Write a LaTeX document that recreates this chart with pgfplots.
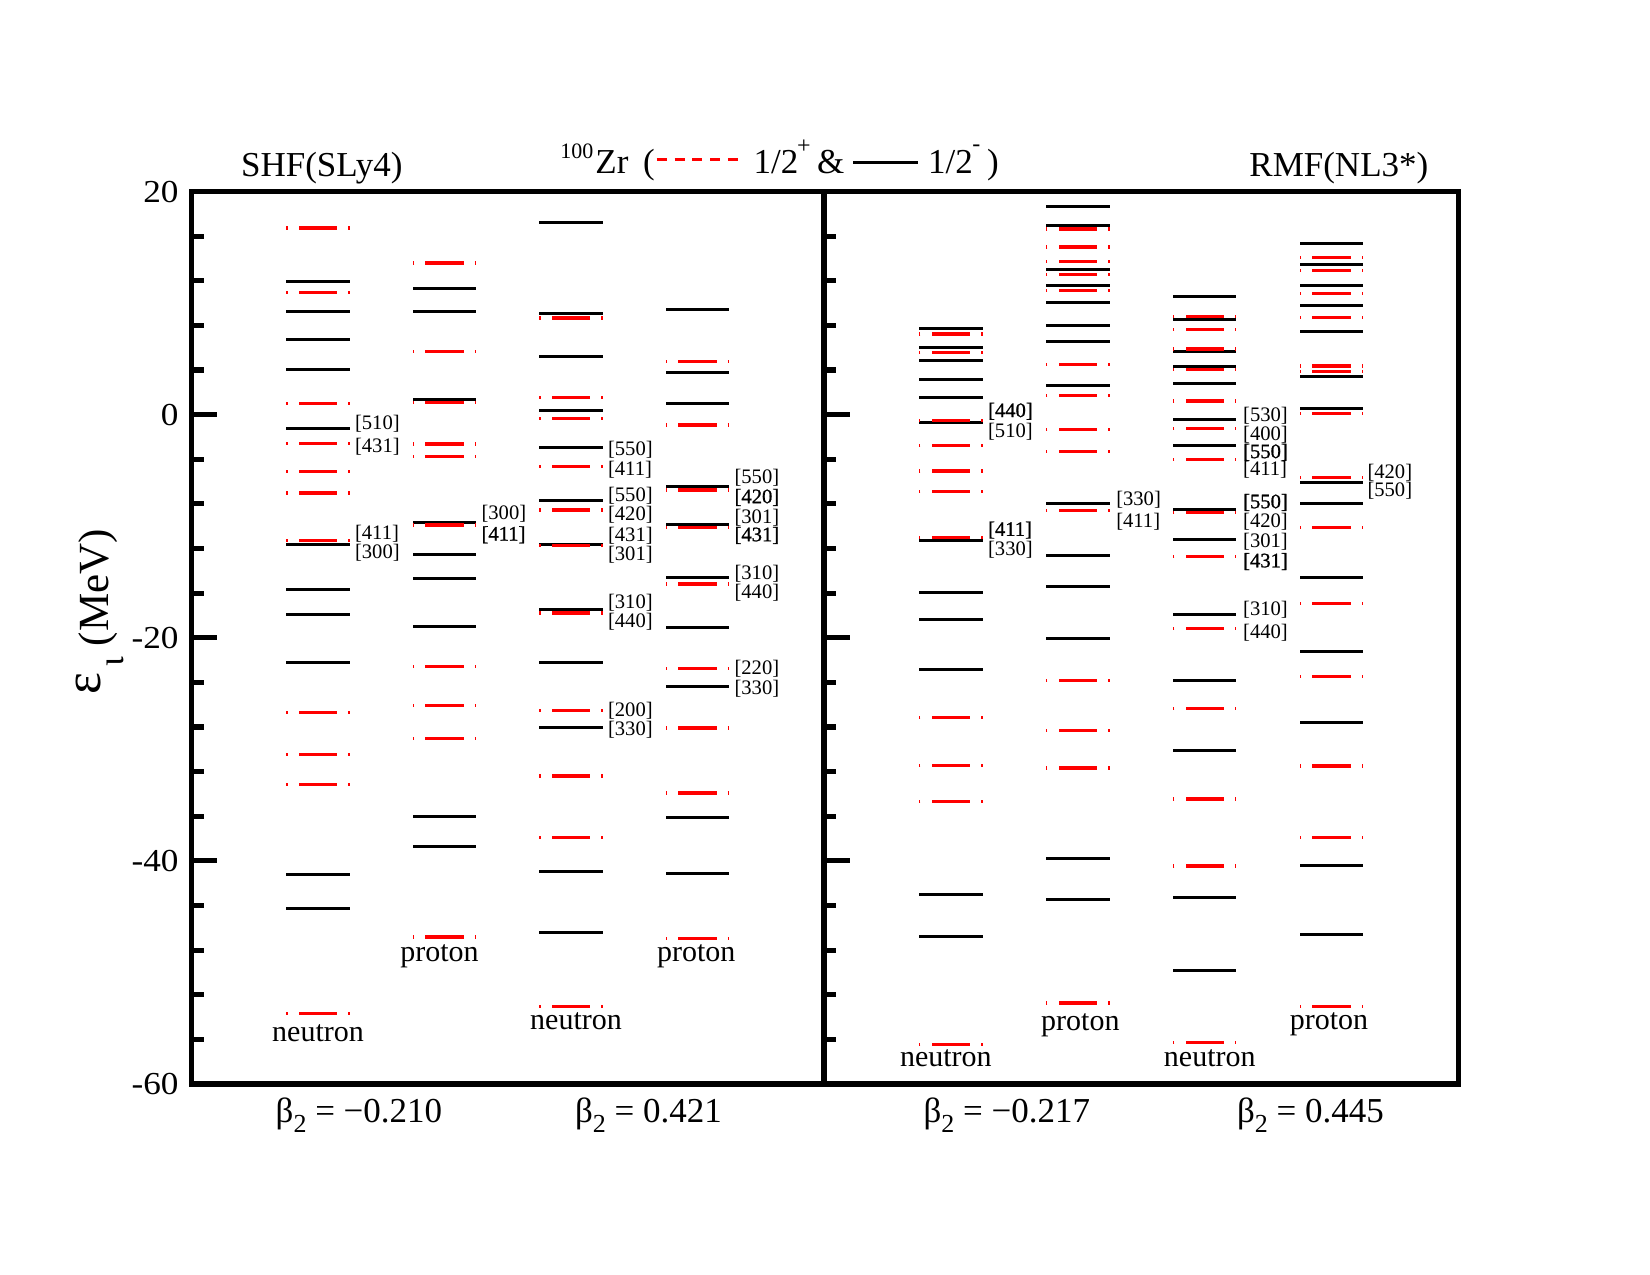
\documentclass[border=0pt]{standalone}
\usepackage{pgfplots}
\pgfplotsset{compat=1.18}
\usepackage{pgfplotstable}
\usepackage{fontspec}
\setmainfont{Liberation Serif}
\newfontfamily\tickfont[FakeStretch=1.1]{Liberation Serif}
\newfontfamily\heavyfont[FakeBold=1]{Liberation Serif}

% Single-particle Omega = 1/2 levels of 100Zr (x = column, y = energy in MeV)
% SHF(SLy4): columns 1,2 at beta2 = -0.210 (n, p); columns 3,4 at beta2 = 0.421 (n, p)
\pgfplotstableread{
x y
1 16.73
1 10.95
1 1.02
1 -2.57
1 -5.09
1 -7.03
1 -11.25
1 -26.70
1 -30.47
1 -33.14
1 -53.66
2 13.58
2 5.69
2 1.11
2 -2.63
2 -3.77
2 -9.90
2 -22.57
2 -26.10
2 -29.01
2 -46.81
3 8.65
3 1.56
3 -0.33
3 -4.64
3 -8.56
3 -11.76
3 -17.77
3 -26.55
3 -32.39
3 -37.92
3 -53.06
4 4.79
4 -0.93
4 -6.76
4 -10.14
4 -15.17
4 -22.78
4 -28.08
4 -33.91
4 -46.96
}\shfplus
\pgfplotstableread{
x y
1 11.97
1 9.22
1 6.70
1 4.04
1 -1.23
1 -11.61
1 -15.71
1 -17.89
1 -22.24
1 -41.21
1 -44.27
2 11.28
2 9.22
2 1.35
2 -9.66
2 -12.51
2 -14.72
2 -18.97
2 -35.98
2 -38.73
3 17.18
3 9.04
3 5.18
3 0.33
3 -2.90
3 -7.66
3 -11.61
3 -17.47
3 -22.24
3 -28.08
3 -40.95
3 -46.39
4 9.43
4 3.80
4 0.96
4 -6.43
4 -9.87
4 -14.63
4 -19.09
4 -24.40
4 -36.10
4 -41.10
}\shfminus
% RMF(NL3*): columns 1,2 at beta2 = -0.217 (n, p); columns 3,4 at beta2 = 0.445 (n, p)
\pgfplotstableread{
x y
1 7.24
1 5.60
1 -0.54
1 -2.75
1 -5.06
1 -6.88
1 -11.01
1 -27.12
1 -31.43
1 -34.66
1 -56.45
2 16.64
2 15.02
2 13.73
2 12.54
2 11.10
2 4.49
2 1.71
2 -1.35
2 -3.32
2 -8.59
2 -23.86
2 -28.32
2 -31.67
2 -52.73
3 8.80
3 7.63
3 5.89
3 4.07
3 1.23
3 -1.26
3 -4.04
3 -8.80
3 -12.72
3 -19.18
3 -26.37
3 -34.45
3 -40.47
3 -56.30
4 14.06
4 12.90
4 10.83
4 8.71
4 4.37
4 3.86
4 0.09
4 -5.63
4 -10.11
4 -16.91
4 -23.47
4 -31.49
4 -37.89
4 -53.06
}\rmfplus
\pgfplotstableread{
x y
1 7.75
1 6.04
1 4.85
1 3.11
1 1.50
1 -0.72
1 -11.31
1 -15.98
1 -18.40
1 -22.87
1 -42.98
1 -46.78
2 18.64
2 16.94
2 13.02
2 11.58
2 10.05
2 8.02
2 6.52
2 2.60
2 -7.96
2 -12.63
2 -15.41
2 -20.07
2 -39.75
2 -43.43
3 10.56
3 8.53
3 5.69
3 4.28
3 2.81
3 -0.42
3 -2.81
3 -8.50
3 -11.22
3 -17.89
3 -23.83
3 -30.11
3 -43.25
3 -49.80
4 15.32
4 13.49
4 11.55
4 9.75
4 7.45
4 3.41
4 0.51
4 -6.10
4 -7.99
4 -14.63
4 -21.23
4 -27.63
4 -40.41
4 -46.57
}\rmfminus

\pgfplotsset{
  levelpanel/.style={
    anchor=south west, scale only axis,
    height=446.25pt,
    xmin=0, xmax=5, ymin=-60, ymax=20,
    xtick=\empty,
    ytick={-60,-40,-20,0,20},
    minor y tick num=4,
    ytick pos=left, tick align=inside,
    major tick length=12.8pt, minor tick length=6.2pt,
    tick style={black, line width=2.6pt},
    axis line style={black, line width=2.8pt},
    clip=false,
  },
  % each level is a horizontal bar of half-width 0.25 around its column;
  % the two halves run outward from the centre, so the dashes start there
  plus level/.style={draw=none, no markers,
    error bars/.cd, x dir=both, x fixed=0.25, error mark=none,
    error bar style={draw=red, line width=1.65pt,
      dash pattern=on 9.575pt off 5.65pt, dash phase=0pt}},
  minus level/.style={draw=none, no markers,
    error bars/.cd, x dir=both, x fixed=0.25, error mark=none,
    error bar style={draw=black, solid, line width=1.5pt}},
}
\tikzset{
  orb/.style={anchor=west, inner sep=0pt, font=\fontsize{10.3}{10.3}\selectfont},
  nuc/.style={anchor=base, inner sep=0pt, font=\fontsize{15}{15}\selectfont},
}

\begin{document}
\begin{tikzpicture}[x=0.5pt, y=-0.5pt]
\path[use as bounding box] (0,0) rectangle (1650,1275);

% ---------------- SHF(SLy4) ----------------
\begin{axis}[levelpanel, at={(95.75pt,-542pt)}, width=316.25pt,
  yticklabels={-60,-40,-20,0,20},
  yticklabel style={font=\tickfont\fontsize{16}{16}\selectfont, inner sep=0pt, xshift=-6.3pt},
]
\addplot[minus level] table[x=x, y=y] {\shfminus};
\addplot[plus level] table[x=x, y=y] {\shfplus};

\node[orb] at (axis cs:1.29,-0.84) {[510]};
\node[orb] at (axis cs:1.29,-2.84) {[431]};
\node[orb] at (axis cs:1.29,-10.65) {[411]};
\node[orb] at (axis cs:1.29,-12.36) {[300]};

\node[orb] at (axis cs:2.29,-8.92) {[300]};
\node[orb] at (axis cs:2.29,-10.77) {\heavyfont[411]};

\node[orb] at (axis cs:3.29,-3.11) {[550]};
\node[orb] at (axis cs:3.29,-4.91) {[411]};
\node[orb] at (axis cs:3.29,-7.28) {[550]};
\node[orb] at (axis cs:3.29,-8.98) {[420]};
\node[orb] at (axis cs:3.29,-10.89) {[431]};
\node[orb] at (axis cs:3.29,-12.60) {[301]};
\node[orb] at (axis cs:3.29,-16.85) {[310]};
\node[orb] at (axis cs:3.29,-18.58) {[440]};
\node[orb] at (axis cs:3.29,-26.52) {[200]};
\node[orb] at (axis cs:3.29,-28.26) {[330]};

\node[orb] at (axis cs:4.29,-5.69) {[550]};
\node[orb] at (axis cs:4.29,-7.42) {\heavyfont[420]};
\node[orb] at (axis cs:4.29,-9.22) {[301]};
\node[orb] at (axis cs:4.29,-10.83) {\heavyfont[431]};
\node[orb] at (axis cs:4.29,-14.30) {[310]};
\node[orb] at (axis cs:4.29,-15.95) {[440]};
\node[orb] at (axis cs:4.29,-22.78) {[220]};
\node[orb] at (axis cs:4.29,-24.58) {[330]};

\node[nuc] at (axis cs:1.00,-56.2) {neutron};
\node[nuc] at (axis cs:1.96,-49.05) {proton};
\node[nuc] at (axis cs:3.04,-55.1) {neutron};
\node[nuc] at (axis cs:3.99,-48.98) {proton};
\end{axis}

% ---------------- RMF(NL3*) ----------------
\begin{axis}[levelpanel, at={(412pt,-542pt)}, width=317.25pt,
  yticklabels={},
]
\addplot[minus level] table[x=x, y=y] {\rmfminus};
\addplot[plus level] table[x=x, y=y] {\rmfplus};

\node[orb] at (axis cs:1.29,0.30) {\heavyfont[440]};
\node[orb] at (axis cs:1.29,-1.50) {[510]};
\node[orb] at (axis cs:1.29,-10.35) {\heavyfont[411]};
\node[orb] at (axis cs:1.29,-12.12) {[330]};

\node[orb] at (axis cs:2.30,-7.66) {[330]};
\node[orb] at (axis cs:2.30,-9.58) {[411]};

\node[orb] at (axis cs:3.30,-0.12) {[530]};
\node[orb] at (axis cs:3.30,-1.83) {[400]};
\node[orb] at (axis cs:3.30,-3.38) {\heavyfont[550]};
\node[orb] at (axis cs:3.30,-4.98) {[411]};
\node[orb] at (axis cs:3.30,-7.87) {\heavyfont[550]};
\node[orb] at (axis cs:3.30,-9.58) {[420]};
\node[orb] at (axis cs:3.30,-11.37) {[301]};
\node[orb] at (axis cs:3.30,-13.17) {\heavyfont[431]};
\node[orb] at (axis cs:3.30,-17.53) {[310]};
\node[orb] at (axis cs:3.30,-19.54) {[440]};

\node[orb] at (axis cs:4.28,-5.18) {[420]};
\node[orb] at (axis cs:4.28,-6.82) {[550]};

\node[nuc] at (axis cs:0.96,-58.4) {neutron};
\node[nuc] at (axis cs:2.02,-55.17) {proton};
\node[nuc] at (axis cs:3.04,-58.4) {neutron};
\node[nuc] at (axis cs:3.98,-55.1) {proton};
\end{axis}

% energy axis title
\node[rotate=90, anchor=base west, inner sep=0pt] at (108,695)
  {\makebox[14.15pt][l]{\raisebox{4pt}{\fontsize{26}{26}\selectfont ε}}%
   \makebox[10pt][l]{\raisebox{-7.5pt}{\fontsize{18}{18}\selectfont ι}}%
   {\fontsize{21.5}{21.5}\selectfont(MeV)}};

% panel headings and nucleus / parity key
\begin{scope}[every node/.style={anchor=base west, inner sep=0pt, font=\fontsize{17.5}{17.5}\selectfont}]
\node at (240.7,176) {SHF(SLy4)};
\node at (1249,176) {RMF(NL3*)};
\node[font=\fontsize{11}{11}\selectfont] at (560,158) {100};
\node at (595,173.5) {Zr};
\node at (642.7,173.5) {(};
\node at (753.3,173) {1/2};
\node[font=\fontsize{12}{12}\selectfont] at (796.7,153) {+};
\node at (816.7,173) {\&};
\node at (927.7,173) {1/2};
\node[font=\fontsize{12}{12}\selectfont] at (972,151) {-};
\node at (986.7,173) {)};
\end{scope}
\draw[red, line width=1.65pt, dash pattern=on 5pt off 3.9pt] (656.7,159.3) -- (740,159.3);
\draw[black, line width=1.65pt] (853.3,162.7) -- (918.3,162.7);

% deformation of each pair of columns
\begin{scope}[every node/.style={anchor=base, inner sep=0pt, font=\fontsize{17.5}{17.5}\selectfont}]
\node at (359,1122) {β\raisebox{-0.3em}{\fontsize{13}{13}\selectfont 2} = −0.210};
\node at (648.5,1122) {β\raisebox{-0.3em}{\fontsize{13}{13}\selectfont 2} = 0.421};
\node at (1006.8,1122) {β\raisebox{-0.3em}{\fontsize{13}{13}\selectfont 2} = −0.217};
\node at (1310.4,1122) {β\raisebox{-0.3em}{\fontsize{13}{13}\selectfont 2} = 0.445};
\end{scope}
\end{tikzpicture}
\end{document}
